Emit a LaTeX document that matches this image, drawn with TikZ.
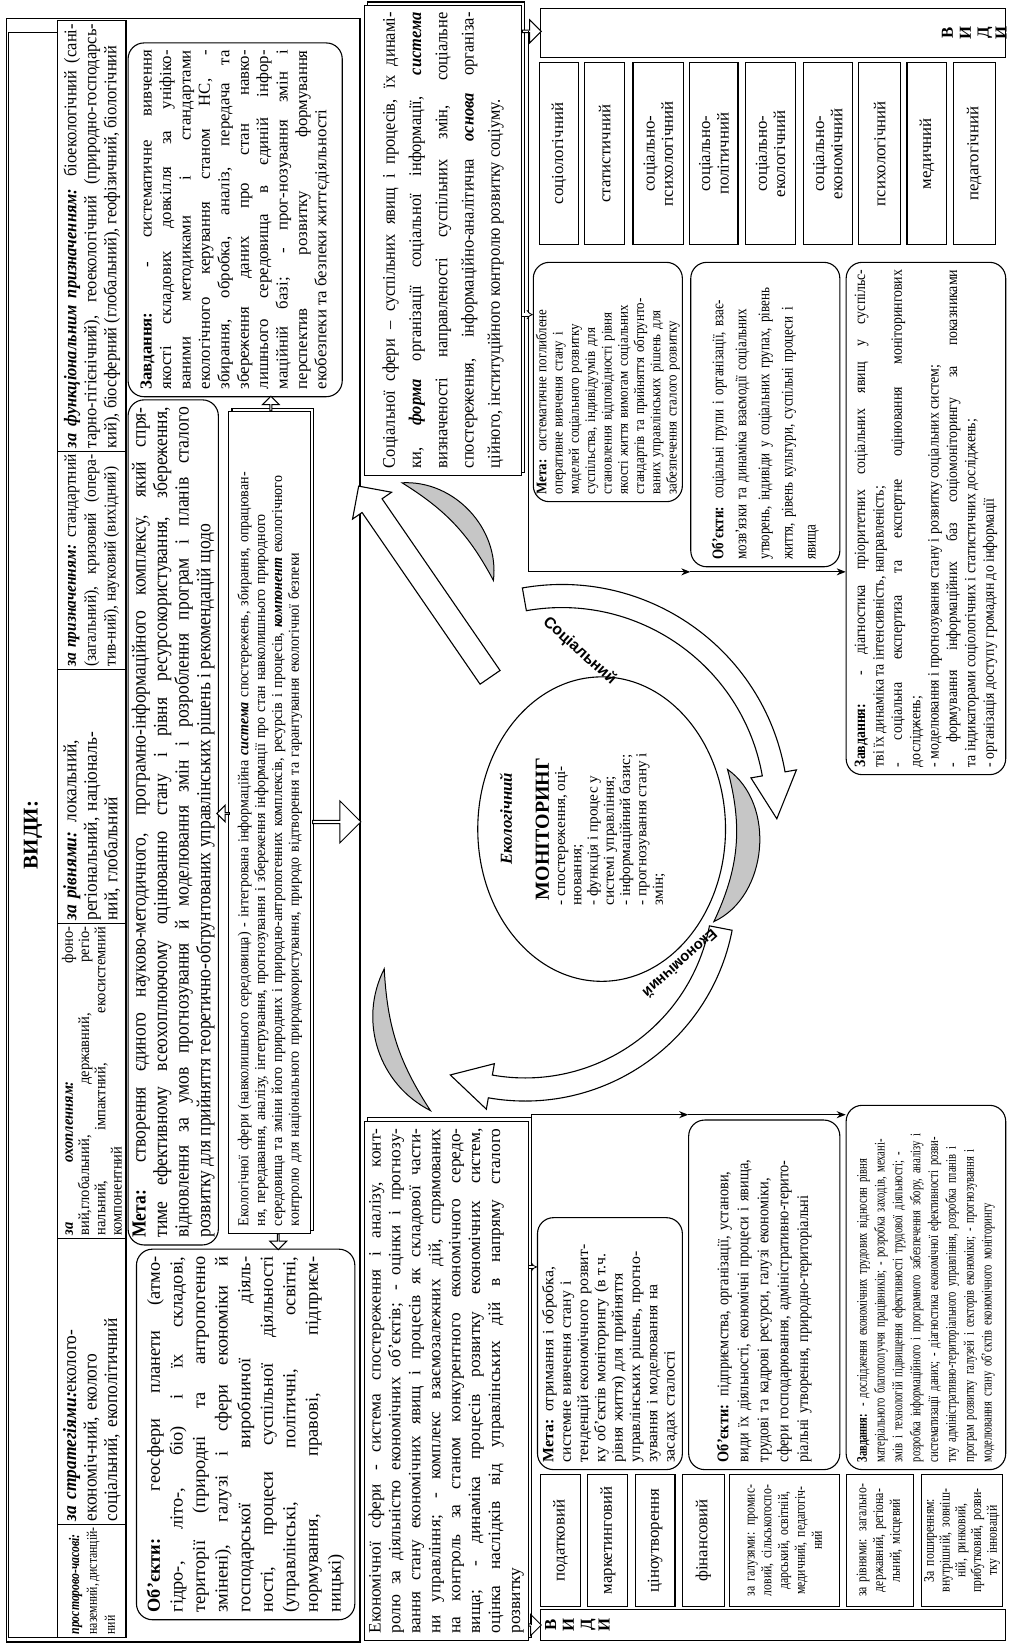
\documentclass[tikz,border=0pt]{standalone}
\usepackage{fontspec}
\setmainfont{Liberation Serif}
\newfontfamily\cnA[FakeStretch=0.88]{Liberation Serif}
\newfontfamily\cnB[FakeStretch=0.80]{Liberation Serif}
\newfontfamily\cnC[FakeStretch=0.72]{Liberation Serif}
\newfontfamily\cnD[FakeStretch=0.92]{Liberation Serif}
\newfontfamily\sansf{Liberation Sans}
\usetikzlibrary{shapes.geometric,shapes.arrows,arrows.meta,calc}
\newcommand\fsz[2]{\fontsize{#1}{#2}\selectfont}
\hyphenpenalty=10000 \exhyphenpenalty=10000 \tolerance=10000 \hbadness=10000 \hfuzz=60pt
\def\bpad{6}
\newcommand\mkbox[7]{%
 \pgfmathsetmacro\bW{#5-#3}\pgfmathsetmacro\bH{#6-#4}%
 \pgfmathsetmacro\bX{(#3+#5)/2}\pgfmathsetmacro\bY{-(#4+#6)/2}%
 \pgfmathsetmacro\bT{#5-#3-2*\bpad}%
 \node[#1, inner xsep=\bpad pt, minimum width=\bW pt, minimum height=\bH pt, text width=\bT pt] (#2) at (\bX pt,\bY pt) {#7};}
\newcommand\arcarr[8]{%
 \pgfmathsetmacro\aXo{#2+#6}\pgfmathsetmacro\aYo{#3+#6}%
 \pgfmathsetmacro\aXi{#2-#6}\pgfmathsetmacro\aYi{#3-#6}%
 \pgfmathsetmacro\aXwo{#2+2*#6}\pgfmathsetmacro\aYwo{#3+2*#6}%
 \pgfmathsetmacro\aXwi{#2-2*#6}\pgfmathsetmacro\aYwi{#3-2*#6}%
 \pgfmathsetmacro\aT{#5+#8}%
 \filldraw[fill=#7, draw=black, line width=1.1pt]
  ([shift={(#4:\aXo pt and \aYo pt)}]#1) arc[start angle=#4, end angle=#5, x radius=\aXo pt, y radius=\aYo pt]
  -- ([shift={(#5:\aXwo pt and \aYwo pt)}]#1)
  -- ([shift={(\aT:#2 pt and #3 pt)}]#1)
  -- ([shift={(#5:\aXwi pt and \aYwi pt)}]#1)
  -- ([shift={(#5:\aXi pt and \aYi pt)}]#1)
  arc[start angle=#5, end angle=#4, x radius=\aXi pt, y radius=\aYi pt] -- cycle;}
\begin{document}
\begin{tikzpicture}[x=1pt,y=1pt,
  bx/.style={draw, line width=1.1pt, fill=white, inner ysep=2pt},
  rbx/.style={bx, rounded corners=16pt},
  arr/.style={line width=1pt, -{Stealth[length=9pt,width=7pt]}},
  dbl/.style={double, double distance=2.4pt, line width=0.8pt, -{Implies}},
  hol/.style={single arrow, draw, fill=white, line width=1pt, inner sep=0pt, single arrow head extend=4pt},
  crs/.style={fill=gray!45, draw=black, line width=1pt},
  shd/.style={line width=1.1pt}]
\useasboundingbox (0,0) rectangle (1012,1646);
\fill[white] (0,0) rectangle (1012,1646);
\begin{scope}[rotate=90, scale=1.0498, transform shape]
% ---------- ecological frame ----------
\draw[line width=1.4pt] (4,-6) rectangle (1550,-343);
\mkbox{bx, align=center, font=\fsz{20}{22}\bfseries}{vidy}{8}{8}{1537}{55}{ВИДИ:}
\def\bpad{3}
\mkbox{bx, align=justify, font=\cnB\fsz{14}{17}}{t1}{8}{55}{116}{120}{{\bfseries\itshape просторово-часові:}\linebreak наземний, дистанцій-\linebreak ний}
\mkbox{bx, align=left, font=\cnD\fsz{18}{19.5}}{t2}{116}{55}{388}{120}{{\bfseries\itshape за стратегіями:}еколого-\\економіч-ний, еколого\\соціальний, екополітичний}
\mkbox{bx, align=justify, font=\cnD\fsz{15}{15.5}}{t3}{388}{55}{688}{120}{{\bfseries\itshape за охопленням:} фоно-\linebreak вий,глобальний, державний, регіо-\linebreak нальний, імпактний, екосистемний\linebreak компонентний}
\mkbox{bx, align=left, font=\cnD\fsz{18}{19.5}}{t4}{688}{55}{930}{120}{{\bfseries\itshape за рівнями:} локальний,\\регіональний, національ-\\ний, глобальний}
\mkbox{bx, align=justify, font=\cnD\fsz{16}{19}}{t5}{930}{55}{1138}{120}{{\bfseries\itshape за призначенням:} стандартний\linebreak (загальний), кризовий (опера-\linebreak тив-ний), науковий (вихідний)}
\mkbox{bx, align=justify, font=\cnD\fsz{17}{19}}{t6}{1138}{55}{1548}{120}{{\bfseries\itshape за функціональним призначенням:} біоекологічний (сані-\linebreak тарно-гігієнічний), геоекологічний (природно-господарсь-\linebreak кий), біосферний (глобальний), геофізичний, біологічний}
\def\bpad{7}
\mkbox{rbx, align=justify, font=\fsz{17.5}{21.5}}{objeco}{25}{130}{378}{338}{{\bfseries Об’єкти:} геосфери планети (атмо-\linebreak гідро-, літо-, біо) і їх складові,\linebreak території (природні та антропогенно\linebreak змінені), галузі і сфери економіки й\linebreak господарської виробничої діяль-\linebreak ності, процеси суспільної діяльності\linebreak (управлінські, політичні, освітні,\linebreak нормування, правові, підприєм-\linebreak ницькі)}
\mkbox{rbx, align=justify, font=\cnA\fsz{19}{20.5}}{metaeco}{382}{122}{1187}{208}{{\bfseries Мета:} створення єдиного науково-методичного, програмно-інформаційного комплексу, який спря-\linebreak тиме ефективному всеохоплюючому оцінюванню стану і рівня ресурсокористування, збереження,\linebreak відновлення за умов прогнозування й моделювання змін і розроблення програм і планів сталого\linebreak розвитку для прийняття теоретично-обгрунтованих управлінських рішень і рекомендацій щодо}
\draw[shd] (396,-221) rectangle (1179,-299);
\mkbox{bx, align=left, font=\cnD\fsz{14.5}{16}}{ekol}{393}{218}{1176}{296}{Екологічної сфери (навколишнього середовища) - інтегрована інформаційна {\bfseries\itshape система} спостережень, збирання, опрацюван-\\ня, передавання, аналізу, інтегрування, прогнозування і збереження інформації про стан навколишнього природного\\середовища та зміни його природних і природно-антропогенних комплексів, ресурсів і процесів, {\bfseries\itshape компонент} екологічного\\контролю для національного природокористування, природо відтворення та гарантування екологічної безпеки}
\mkbox{rbx, align=justify, font=\fsz{16}{18.5}}{zavdeco}{1190}{122}{1527}{326}{{\bfseries Завдання:} - систематичне вивчення\linebreak якості складових довкілля за уніфіко-\linebreak ваними методиками і стандартами\linebreak екологічного керування станом НС, -\linebreak збирання, обробка, аналіз, передача та\linebreak збереження даних про стан навко-\linebreak лишнього середовища в єдиній інфор-\linebreak маційній базі; - прог-нозування змін і\linebreak перспектив розвитку формування\linebreak екобезпеки та безпеки життєдіяльності}
\node[hol, minimum height=12pt, minimum width=16pt, rotate=90] (ea1) at (793,-213) {};
\node[hol, minimum height=14pt, minimum width=16pt] (ea2) at (1183,-258) {};
\node[hol, minimum height=15pt, minimum width=16pt, rotate=180] (ea3) at (385.5,-265) {};
\node[hol, minimum height=46pt, minimum width=40pt, single arrow head extend=6pt, rotate=-90] (ea4) at (785,-320) {};
% ---------- spheres ----------
\draw[shd] (8,-350) rectangle (503,-506);
\mkbox{bx, align=justify, font=\fsz{16.5}{19}}{econ}{5}{347}{500}{503}{Економічної сфери - система спостереження і аналізу, конт-\linebreak ролю за діяльністю економічних об’єктів; - оцінки і прогнозу-\linebreak вання стану економічних явищ і процесів як складової части-\linebreak ни управління; - комплекс взаємозалежних дій, спрямованих\linebreak на контроль за станом конкурентного економічного середо-\linebreak вища; - динаміка процесів розвитку економічних систем,\linebreak оцінка наслідків від управлінських дій в напряму сталого\linebreak розвитку}
\draw[shd] (1118,-350) rectangle (1566,-500);
\mkbox{bx, align=justify, font=\cnD\fsz{17}{25}}{soc}{1115}{347}{1563}{497}{Соціальної сфери – суспільних явищ і процесів, їх динамі-\linebreak ки, {\bfseries\itshape форма} організації соціальної інформації, {\bfseries\itshape система}\linebreak визначеності направленості суспільних змін, соціальне\linebreak спостереження, інформаційно-аналітична {\bfseries\itshape основа} організа-\linebreak ційного, інституційного контролю розвитку соціуму.}
% ---------- social block ----------
\def\bpad{4}
\mkbox{bx}{vsoc}{1513}{515}{1560}{958}{}
\node[font=\fsz{16}{17}\bfseries, align=center, inner sep=0pt] (vsocl) at (1536.5,-928) {В\\И\\Д\\И};
\mkbox{bx, align=center, font=\fsz{16}{17.5}}{sv1}{1335}{514}{1508}{551}{соціологічний}
\mkbox{bx, align=center, font=\fsz{16}{17.5}}{sv2}{1335}{557}{1508}{595}{статистичний}
\mkbox{bx, align=center, font=\fsz{16}{17.5}}{sv3}{1335}{603}{1508}{651}{соціально-\\психологічний}
\mkbox{bx, align=center, font=\fsz{16}{17.5}}{sv4}{1335}{657}{1508}{703}{соціально-\\політичний}
\mkbox{bx, align=center, font=\fsz{16}{17.5}}{sv5}{1335}{710}{1508}{758}{соціально-\\екологічний}
\mkbox{bx, align=center, font=\fsz{16}{17.5}}{sv6}{1335}{765}{1508}{812}{соціально-\\економічний}
\mkbox{bx, align=center, font=\fsz{16}{17.5}}{sv7}{1335}{818}{1508}{858}{психологічний}
\mkbox{bx, align=center, font=\fsz{16}{17.5}}{sv8}{1335}{864}{1508}{902}{медичний}
\mkbox{bx, align=center, font=\fsz{16}{17.5}}{sv9}{1335}{908}{1508}{948}{педагогічний}
\def\bpad{7}
\mkbox{rbx, align=left, font=\cnA\fsz{14}{15.5}}{metas}{1090}{508}{1318}{650}{{\bfseries Мета:} систематичне поглиблене\\оперативне вивчення стану і\\моделей соціального розвитку\\суспільства, індивідуумів для\\становлення відповідності рівня\\якості життя вимогам соціальних\\стандартів та прийняття обгрунто-\\ваних управлінських рішень для\\забезпечення сталого розвитку}
\mkbox{rbx, align=left, font=\cnB\fsz{15.5}{22}}{objs}{1028}{658}{1318}{800}{{\bfseries Об’єкти:} соціальні групи і організації, взає-\\мозв’язки та динаміка взаємодії соціальних\\утворень, індивіди у соціальних групах, рівень\\життя, рівень культури, суспільні процеси і\\явища}
\mkbox{rbx, align=justify, font=\cnA\fsz{15}{17.5}}{zavds}{830}{806}{1318}{958}{{\bfseries Завдання:} - діагностика пріоритетних соціальних явищ у суспільс-\linebreak тві їх динаміка та інтенсивність, направленість;\\- соціальна експертиза та експертне оцінювання моніторингових\linebreak досліджень;\\- моделювання і прогнозування стану і розвитку соціальних систем;\\- формування інформаційних баз соціомоніторингу за показниками\linebreak та індикаторами соціологічних і статистичних досліджень;\\- організація доступу громадян до інформації}
% ---------- economic block ----------
\def\bpad{4}
\mkbox{bx}{vecon}{5}{515}{35}{958}{}
\node[font=\fsz{16}{17}\bfseries, align=center, inner sep=0pt] (veconl) at (20,-550) {В\\И\\Д\\И};
\mkbox{bx, align=center, font=\fsz{16}{18}}{ev1}{38}{515}{163}{553}{податковий}
\mkbox{bx, align=center, font=\fsz{16}{18}}{ev2}{38}{560}{163}{598}{маркетинговий}
\mkbox{bx, align=center, font=\fsz{16}{18}}{ev3}{38}{605}{163}{643}{ціноутворення}
\mkbox{bx, align=center, font=\fsz{16}{18}}{ev4}{38}{650}{163}{690}{фінансовий}
\mkbox{bx, align=center, font=\cnB\fsz{14}{16}}{ev5}{38}{695}{163}{800}{за галузями: промис-\\ловий, сільськогоспо-\\дарський, освітній,\\медичний, педагогіч-\\ний}
\mkbox{bx, align=center, font=\cnB\fsz{14}{16}}{ev6}{38}{806}{163}{870}{за рівнями: загально-\\державний, регіона-\\льний, місцевий}
\mkbox{bx, align=center, font=\cnB\fsz{14}{15}}{ev7}{38}{878}{163}{955}{За поширенням:\\внутрішній, зовніш-\\ній, ринковий,\\прибутковий, розви-\\тку інновацій}
\def\bpad{7}
\mkbox{rbx, align=left, font=\fsz{15}{16.5}}{metae}{168}{512}{408}{650}{{\bfseries Мета:} отримання і обробка,\\системне вивчення стану і\\тенденцій економічного розвит-\\ку об’єктів моніторингу (в т.ч.\\рівня життя) для прийняття\\управлінських рішень, прогно-\\зування і моделювання на\\засадах сталості}
\mkbox{rbx, align=left, font=\cnA\fsz{15.5}{19}}{obje}{168}{656}{501}{800}{{\bfseries Об’єкти:} підприємства, організації, установи,\\види їх діяльності, економічні процеси і явища,\\трудові та кадрові ресурси, галузі економіки,\\сфери господарювання, адміністративно-терито-\\ріальні утворення, природно-територіальні}
\mkbox{rbx, align=left, font=\cnC\fsz{14}{17}}{zavde}{168}{806}{515}{958}{{\bfseries Завдання:} - дослідження економічних трудових відносин рівня\\матеріального благополуччя працівників; - розробка заходів, механі-\\змів і технологій підвищення ефективності трудової діяльності; -\\розробка інформаційного і програмного забезпечення збору, аналізу і\\систематизації даних; - діагностика економічної ефективності розви-\\тку адміністративно-територіального управління, розробка планів і\\програм розвитку галузей і секторів економіки; - прогнозування і\\моделювання стану об’єктів економічного моніторингу}
% ---------- connectors ----------
\node[hol, minimum height=18pt, minimum width=22pt, rotate=-90] (hs) at (1538,-506) {};
\node[hol, minimum height=12pt, minimum width=20pt, rotate=-90] (he) at (20,-509) {};
\coordinate (kA) at (1268,0); \coordinate (bs1) at (1538,-503); \coordinate (bsx) at (1023,0);
\coordinate (kE) at (361,0); \coordinate (be1) at (20,-506); \coordinate (bex) at (506,0);
\draw[arr] (bs1) -| (objs.north -| bsx);
\draw[arr] (objs.north -| bsx) -- (zavds.north -| bsx);
\draw[dbl] (soc.south -| kA) -- (metas.north -| kA);
\draw[arr] (be1) -| (obje.north -| bex);
\draw[arr] (obje.north -| bex) -- (zavde.north -| bex);
\draw[dbl] (econ.south -| kE) -- (metae.north -| kE);
% ---------- monitoring cycle ----------
\coordinate (C) at (778,-573);
\coordinate (C2) at (795,-535);
\coordinate (C3) at (720,-500);
% grey crescents
\filldraw[crs] (835,-693) to[bend left=60] (690,-680) to[bend right=20] (835,-693) -- cycle;
\filldraw[crs] (1015,-470) to[bend right=50] (1108,-383) to[bend left=15] (1015,-470) -- cycle;
\filldraw[crs] (510,-410) to[bend left=45] (645,-366) to[bend right=15] (510,-410) -- cycle;
% white arrows
\arcarr{C2}{205}{205}{10}{-80}{11}{white}{-12}
\arcarr{C3}{190}{190}{-101}{-190}{11}{white}{-12}
\node[single arrow, draw, fill=white, line width=1.1pt, inner xsep=0pt, inner ysep=11pt, single arrow head extend=11pt, minimum height=221pt, rotate=34.5] (wa1) at (1009,-407.5) {};
% ellipse
\node[ellipse, draw, line width=1.1pt, fill=white, minimum width=290pt, minimum height=236pt, inner sep=0pt, font=\fsz{14.5}{15.5}] (mon) at (C) {\begin{tabular}{@{}l@{}}\multicolumn{1}{@{}c@{}}{\fsz{19}{22}\bfseries МОНІТОРИНГ}\\- спостереження, оці-\\нювання;\\- функція і процес у\\системі управління;\\- інформаційний базис;\\- прогнозування стану і\\змін;\end{tabular}};
% labels
\node[font=\fsz{16}{18}\bfseries\itshape] (lek) at (788,-482) {Екологічний};
\node[font=\sansf\fsz{15}{17}\bfseries, rotate=-132] (lso) at (948,-552) {Соціальний};
\node[font=\sansf\fsz{14}{16}\bfseries, rotate=132] (lec) at (650,-648) {Економічний};
\end{scope}
\end{tikzpicture}
\end{document}
